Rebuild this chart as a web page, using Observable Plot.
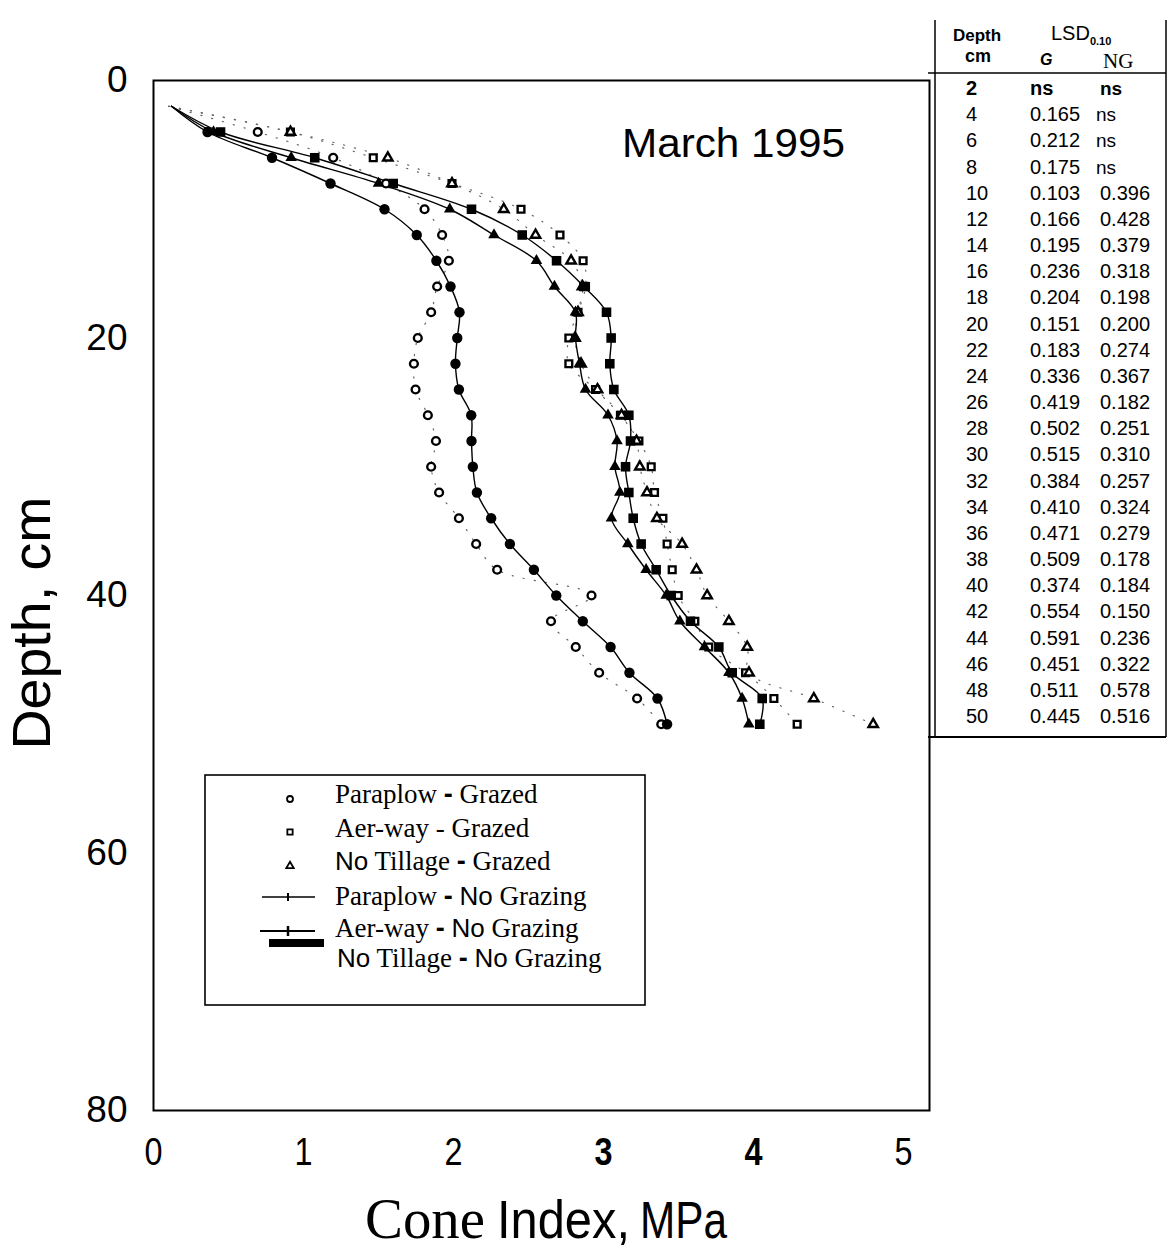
<!DOCTYPE html>
<html>
<head>
<meta charset="utf-8">
<script src="https://cdn.jsdelivr.net/npm/d3@7"></script>
<script src="https://cdn.jsdelivr.net/npm/@observablehq/plot@0.6"></script>
<style>
  html, body { margin: 0; padding: 0; background: #fff; }
  #chart svg { display: block; }
</style>
</head>
<body>
<div id="chart"></div>
<script>
// Sampling depths, cm
const depth = [2, 4, 6, 8, 10, 12, 14, 16, 18, 20, 22, 24, 26, 28, 30, 32, 34, 36, 38, 40, 42, 44, 46, 48, 50];

// Cone index, MPa, grazed treatments
const paraplowGrazed = [0.10, 0.695, 1.198, 1.55, 1.807, 1.924, 1.969, 1.891, 1.851, 1.762, 1.736, 1.747, 1.829, 1.883, 1.851, 1.904, 2.036, 2.151, 2.291, 2.92, 2.65, 2.815, 2.971, 3.224, 3.385];
const aerwayGrazed   = [0.10, 0.913, 1.465, 1.99, 2.45, 2.71, 2.864, 2.88, 2.83, 2.769, 2.769, 2.947, 3.113, 3.236, 3.318, 3.34, 3.396, 3.424, 3.458, 3.498, 3.609, 3.702, 3.947, 4.136, 4.291];
const noTillGrazed   = [0.10, 0.913, 1.562, 1.99, 2.335, 2.547, 2.784, 2.86, 2.83, 2.81, 2.85, 2.96, 3.12, 3.22, 3.242, 3.29, 3.356, 3.524, 3.62, 3.691, 3.836, 3.958, 3.97, 4.402, 4.798];

// Cone index, MPa, ungrazed treatments
const paraplowNoGraze = [0.12, 0.36, 0.79, 1.18, 1.54, 1.755, 1.886, 1.98, 2.04, 2.025, 2.013, 2.036, 2.118, 2.12, 2.129, 2.156, 2.251, 2.376, 2.536, 2.685, 2.862, 3.047, 3.173, 3.36, 3.424];
const aerwayNoGraze   = [0.12, 0.447, 1.075, 1.598, 2.12, 2.458, 2.687, 2.869, 3.02, 3.051, 3.042, 3.069, 3.169, 3.18, 3.147, 3.169, 3.198, 3.251, 3.351, 3.451, 3.58, 3.769, 3.858, 4.058, 4.042];
const noTillNoGraze   = [0.12, 0.40, 0.918, 1.50, 1.975, 2.27, 2.553, 2.673, 2.813, 2.813, 2.84, 2.88, 3.03, 3.09, 3.076, 3.109, 3.053, 3.162, 3.284, 3.418, 3.509, 3.673, 3.836, 3.924, 3.969];

// Axis ticks
const xTicks = [0, 1, 2, 3, 4, 5];
const xTicksBold = [3, 4];
const yTicks = [0, 20, 40, 60, 80];

// LSD(0.10) table
const lsdDepth = [2, 4, 6, 8, 10, 12, 14, 16, 18, 20, 22, 24, 26, 28, 30, 32, 34, 36, 38, 40, 42, 44, 46, 48, 50];
const lsdG  = ["ns", "0.165", "0.212", "0.175", "0.103", "0.166", "0.195", "0.236", "0.204", "0.151", "0.183", "0.336", "0.419", "0.502", "0.515", "0.384", "0.410", "0.471", "0.509", "0.374", "0.554", "0.591", "0.451", "0.511", "0.445"];
const lsdNG = ["ns", "ns", "ns", "ns", "0.396", "0.428", "0.379", "0.318", "0.198", "0.200", "0.274", "0.367", "0.182", "0.251", "0.310", "0.257", "0.324", "0.279", "0.178", "0.184", "0.150", "0.236", "0.322", "0.578", "0.516"];

// Legend entries: text runs with their typeface
const legendRows = [
  [["Paraplow", "serif"], [" ", "serif"], ["-", "dash"], [" Grazed", "serif"]],
  [["Aer-way - Grazed", "serif"]],
  [["No", "sans"], [" Tillage ", "serif"], ["-", "dash"], [" Grazed", "serif"]],
  [["Paraplow ", "serif"], ["-", "dash"], [" ", "serif"], ["No", "sans"], [" Grazing", "serif"]],
  [["Aer-way ", "serif"], ["-", "dash"], [" ", "serif"], ["No", "sans"], [" Grazing", "serif"]],
  [["No", "sans"], [" Tillage ", "serif"], ["-", "dash"], [" ", "serif"], ["No", "sans"], [" Grazing", "serif"]]
];
const legendSymbols = ["circle", "square", "triangle"];

const SANS = "'Liberation Sans', Arial, Helvetica, sans-serif";
const SERIF = "'Liberation Serif', 'Times New Roman', Times, serif";

const rows = (values) => depth.map((d, i) => ({depth: d, ci: values[i]}));
const pg = rows(paraplowGrazed), ag = rows(aerwayGrazed), tg = rows(noTillGrazed);
const pn = rows(paraplowNoGraze), an = rows(aerwayNoGraze), tn = rows(noTillNoGraze);
// the 2 cm readings only anchor the curves at the surface
const markers = (s) => s.filter(d => d.depth > 2);

const dotted = {x: "ci", y: "depth", stroke: "#666", strokeWidth: 1.2, strokeDasharray: "1.2 10", curve: "catmull-rom"};
const solid = {x: "ci", y: "depth", stroke: "black", strokeWidth: 1.4, curve: "catmull-rom"};
const open = {x: "ci", y: "depth", fill: "white", stroke: "black", strokeWidth: 2.4};
const filled = {x: "ci", y: "depth", fill: "black", stroke: "none"};
const xAxisText = {tickSize: 0, tickPadding: 28, label: null, fontSize: 38, tickFormat: d => String(d)};

const plot = Plot.plot({
  width: 1170,
  height: 1256,
  marginLeft: 153,
  marginRight: 241,
  marginTop: 80,
  marginBottom: 146,
  style: {fontFamily: SANS, fontSize: "37px", color: "black", background: "white", overflow: "visible"},
  x: {domain: [0, 776 / 150]},
  y: {domain: [0, 80], reverse: true},
  marks: [
    Plot.axisX(xTicks.filter(t => !xTicksBold.includes(t)), xAxisText),
    Plot.axisX(xTicksBold, {...xAxisText, fontWeight: "bold"}),
    Plot.axisY(yTicks, {tickSize: 0, tickPadding: 26, label: null, fontSize: 37}),
    Plot.line(pg, dotted),
    Plot.line(ag, dotted),
    Plot.line(tg, dotted),
    Plot.line(pn, solid),
    Plot.line(an, solid),
    Plot.line(tn, solid),
    Plot.dot(markers(pg), {...open, symbol: "circle", r: 3.9}),
    Plot.dot(markers(ag), {...open, symbol: "square", r: 3.8}),
    Plot.dot(markers(tg), {...open, symbol: "triangle", r: 3.5}),
    Plot.dot(markers(pn), {...filled, symbol: "circle", r: 5.2}),
    Plot.dot(markers(an), {...filled, symbol: "square", r: 5.4}),
    Plot.dot(markers(tn), {...filled, symbol: "triangle", r: 4.3}),
    Plot.frame({stroke: "black", strokeWidth: 2})
  ]
});

document.getElementById("chart").appendChild(plot);
const svg = d3.select(plot);

// narrow the x tick numerals
svg.selectAll('g[aria-label="x-axis tick label"] text')
  .attr("textLength", 18).attr("lengthAdjust", "spacingAndGlyphs");

const g = svg.append("g").attr("fill", "black").attr("text-anchor", "start");

// Panel title
g.append("text")
  .attr("x", 622).attr("y", 157)
  .attr("font-family", SANS).attr("font-size", 41)
  .attr("textLength", 223).attr("lengthAdjust", "spacingAndGlyphs")
  .text("March 1995");

// Axis titles
g.append("text")
  .attr("transform", "translate(50,623) rotate(-90)")
  .attr("text-anchor", "middle")
  .attr("font-family", SANS).attr("font-size", 53)
  .attr("textLength", 253).attr("lengthAdjust", "spacingAndGlyphs")
  .text("Depth, cm");

const xt = g.append("text").attr("y", 1238).style("white-space", "pre");
xt.append("tspan").attr("x", 365).attr("font-family", SERIF).attr("font-size", 57)
  .attr("textLength", 120).attr("lengthAdjust", "spacingAndGlyphs").text("Cone");
xt.append("tspan").attr("x", 497).attr("font-family", SANS).attr("font-size", 53)
  .attr("textLength", 133).attr("lengthAdjust", "spacingAndGlyphs").text("Index,");
xt.append("tspan").attr("x", 640).attr("font-family", SANS).attr("font-size", 52)
  .attr("textLength", 87).attr("lengthAdjust", "spacingAndGlyphs").text("MPa");

// Legend
const lg = svg.append("g").attr("text-anchor", "start");
lg.append("rect").attr("x", 205).attr("y", 775).attr("width", 440).attr("height", 230)
  .attr("fill", "white").attr("stroke", "black").attr("stroke-width", 1.6);
const legendBase = [803, 837, 870, 905, 937, 967];
legendRows.forEach((runs, i) => {
  const t = lg.append("text").attr("x", i === 5 ? 337 : 335).attr("y", legendBase[i])
    .attr("font-size", 27).style("white-space", "pre").attr("fill", "black");
  runs.forEach(([s, face]) => {
    const sp = t.append("tspan").text(s);
    if (face === "serif") sp.attr("font-family", SERIF);
    else if (face === "sans") sp.attr("font-family", SANS).attr("font-size", 26);
    else sp.attr("font-family", SANS).attr("font-weight", "bold");
  });
});
legendSymbols.forEach((sym, i) => {
  const type = {circle: d3.symbolCircle, square: d3.symbolSquare, triangle: d3.symbolTriangle}[sym];
  lg.append("path")
    .attr("transform", `translate(290,${[799, 832, 866][i]})`)
    .attr("d", d3.symbol(type, sym === "triangle" ? 24 : 28)())
    .attr("fill", "white").attr("stroke", "black").attr("stroke-width", 1.8);
});
lg.append("line").attr("x1", 262).attr("x2", 315).attr("y1", 897).attr("y2", 897).attr("stroke", "black").attr("stroke-width", 1.5);
lg.append("line").attr("x1", 288).attr("x2", 288).attr("y1", 893).attr("y2", 901).attr("stroke", "black").attr("stroke-width", 2);
lg.append("line").attr("x1", 260).attr("x2", 315).attr("y1", 931).attr("y2", 931).attr("stroke", "black").attr("stroke-width", 2);
lg.append("line").attr("x1", 288).attr("x2", 288).attr("y1", 926).attr("y2", 936).attr("stroke", "black").attr("stroke-width", 2.5);
lg.append("rect").attr("x", 269).attr("y", 939).attr("width", 55).attr("height", 8).attr("fill", "black");

// LSD table
const tb = svg.append("g").attr("fill", "black").attr("font-family", SANS).attr("text-anchor", "start");
const rule = (x1, y1, x2, y2, w) => tb.append("line").attr("x1", x1).attr("y1", y1).attr("x2", x2).attr("y2", y2)
  .attr("stroke", "black").attr("stroke-width", w || 1.5);
rule(935, 20, 935, 737);
rule(1166, 20, 1166, 737);
rule(928, 73, 1166, 73);
rule(928, 737, 1166, 737, 2);

tb.append("text").attr("x", 953).attr("y", 41).attr("font-size", 17).attr("font-weight", "bold").text("Depth");
tb.append("text").attr("x", 965).attr("y", 62).attr("font-size", 18).attr("font-weight", "bold").text("cm");
const lsd = tb.append("text").attr("x", 1051).attr("y", 40).attr("font-size", 20);
lsd.append("tspan").text("LSD");
lsd.append("tspan").attr("font-size", 11).attr("font-weight", "bold").attr("dy", 5).text("0.10");
tb.append("text").attr("x", 1040).attr("y", 65).attr("font-size", 16).attr("font-weight", "bold").attr("font-style", "italic").text("G");
tb.append("text").attr("x", 1103).attr("y", 68).attr("font-size", 21).attr("font-family", SERIF).text("NG");

lsdDepth.forEach((d, i) => {
  const y = 95 + i * 26.17;
  tb.append("text").attr("x", 966).attr("y", y).attr("font-size", 20)
    .attr("font-weight", i === 0 ? "bold" : null).text(d);
  tb.append("text").attr("x", 1030).attr("y", y).attr("font-size", 20)
    .attr("font-weight", lsdG[i] === "ns" ? "bold" : null).text(lsdG[i]);
  tb.append("text").attr("x", lsdNG[i] === "ns" && i > 0 ? 1096 : 1100).attr("y", y)
    .attr("font-size", lsdNG[i] === "ns" ? 19 : 20)
    .attr("font-weight", i === 0 ? "bold" : null).text(lsdNG[i]);
});
</script>
</body>
</html>
